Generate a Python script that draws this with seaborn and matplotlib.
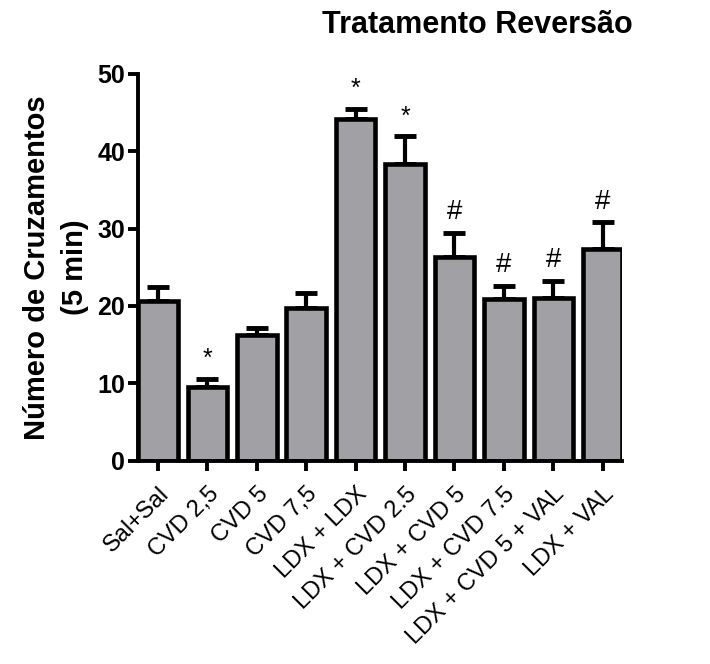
import numpy as np
import pandas as pd
import matplotlib
matplotlib.use("Agg")
import matplotlib.pyplot as plt
import seaborn as sns

# Data
groups = ["Sal+Sal", "CVD 2,5", "CVD 5", "CVD 7,5", "LDX + LDX",
          "LDX + CVD 2.5", "LDX + CVD 5", "LDX + CVD 7.5",
          "LDX + CVD 5 + VAL", "LDX + VAL"]
means = [20.6, 9.5, 16.3, 19.8, 44.2, 38.3, 26.3, 20.9, 21.0, 27.4]
sem = [1.9, 1.1, 0.8, 1.9, 1.3, 3.6, 3.1, 1.7, 2.2, 3.4]
marks = ["", "*", "", "", "*", "*", "#", "#", "#", "#"]

df = pd.DataFrame({"grupo": groups, "media": means})

sns.set_style("ticks")
plt.rcParams['font.family'] = ['Liberation Sans', 'DejaVu Sans']
for k in ["text.color", "axes.labelcolor", "xtick.color", "ytick.color", "axes.edgecolor"]:
    plt.rcParams[k] = "black"

fig = plt.figure(figsize=(7.1, 6.64), dpi=100)
ax = fig.add_axes([0.194, 0.306, 0.682, 0.583])

x = np.arange(len(groups))
ax.errorbar(x, means, yerr=[np.zeros(len(sem)), sem], fmt="none",
            ecolor="black", elinewidth=3, capsize=8, capthick=3.5, zorder=0.5)

sns.barplot(data=df, x="grupo", y="media", color="#a1a1a5", width=0.8,
            saturation=1, edgecolor="black", linewidth=3.3, errorbar=None, ax=ax)

for i, m in enumerate(marks):
    if m:
        ax.text(i, means[i] + sem[i] + 1.0, m, ha="center", va="bottom",
                fontsize=18 if m == "*" else 20)

ax.set_ylim(0, 50)
ax.set_xlim(-0.41, 9.39)
ax.set_yticks([0, 10, 20, 30, 40, 50])
ax.set_xlabel("")
ax.set_ylabel("Número de Cruzamentos\n(5 min)", fontsize=21, fontweight="bold",
              labelpad=6, linespacing=1.45)

sns.despine(ax=ax)
for s in ["left", "bottom"]:
    ax.spines[s].set_linewidth(2.8)
ax.tick_params(axis="both", width=2.8, length=7, direction="out")
ax.tick_params(axis="y", labelsize=18, pad=2)
ax.tick_params(axis="x", labelsize=17, pad=9)
for lab in ax.get_yticklabels():
    lab.set_fontweight("bold")
ax.set_xticks(x)
ax.set_xticklabels(groups, rotation=45, ha="right", rotation_mode="anchor")

fig.text(0.672, 0.962, "Tratamento Reversão", ha="center", va="center",
         fontsize=22, fontweight="bold")

fig.savefig("out.png", dpi=100)
